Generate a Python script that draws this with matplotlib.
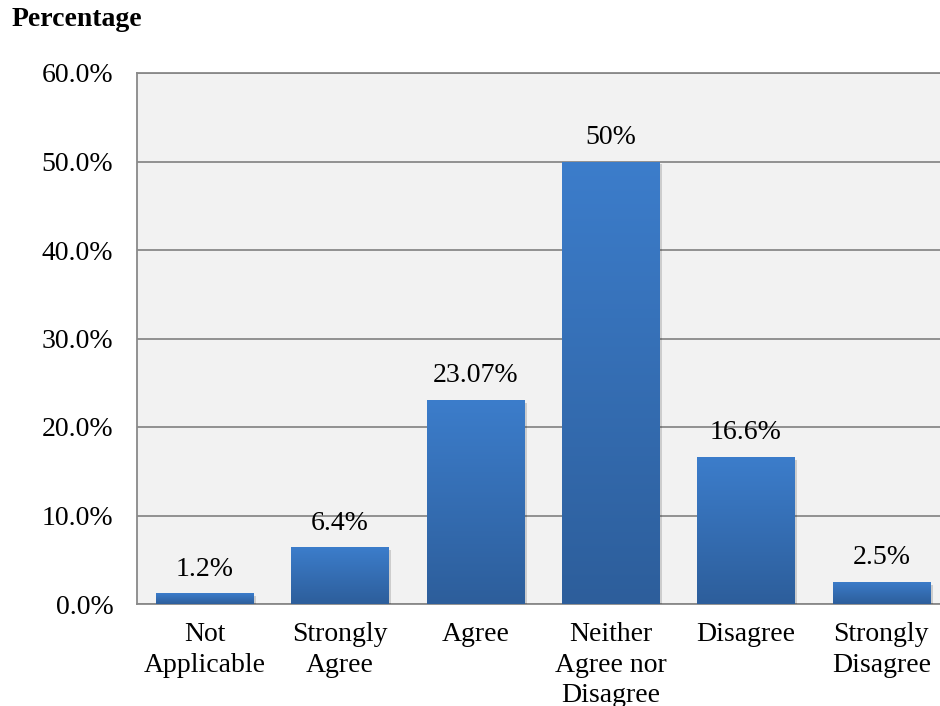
import numpy as np
import matplotlib.pyplot as plt
import matplotlib.patheffects as pe
from matplotlib.colors import LinearSegmentedColormap

plt.rcParams['font.family'] = ['Liberation Serif', 'DejaVu Serif']

# Datos de la encuesta
categorias = ['Not\nApplicable', 'Strongly\nAgree', 'Agree',
              'Neither\nAgree nor\nDisagree', 'Disagree', 'Strongly\nDisagree']
porcentajes = [1.2, 6.4, 23.07, 50.0, 16.6, 2.5]
etiquetas = ['1.2%', '6.4%', '23.07%', '50%', '16.6%', '2.5%']
yticks = [0, 10, 20, 30, 40, 50, 60]

fs = 20

fig = plt.figure(figsize=(9.4, 7.06), dpi=100)
ax = fig.add_axes([137 / 940, 102 / 706, 812 / 940, 531 / 706])
ax.set_facecolor('#f2f2f2')

x = np.arange(len(categorias))
barras = ax.bar(x, porcentajes, width=0.72, color='none', zorder=3,
                path_effects=[pe.SimplePatchShadow(offset=(2, -2), shadow_rgbFace='#000000', alpha=0.15),
                              pe.Normal()])

# Relleno degradado en cada barra
cmap = LinearSegmentedColormap.from_list('azul', ['#2d5e9b', '#3c7dcb'])
grad = np.linspace(0, 1, 256).reshape(-1, 1)
for b in barras:
    x0, y0 = b.get_x(), b.get_y()
    w, h = b.get_width(), b.get_height()
    im = ax.imshow(grad, cmap=cmap, origin='lower', aspect='auto',
                   extent=[x0, x0 + w, y0, y0 + h], zorder=4)
    im.set_clip_path(b)

for xi, v, t in zip(x, porcentajes, etiquetas):
    ax.annotate(t, (xi, v), xytext=(0, 17.5), textcoords='offset points',
                ha='center', va='center', fontsize=fs, zorder=5)

ax.set_xlim(-0.5, len(categorias) - 0.5)
ax.set_ylim(0, 60)
ax.set_yticks(yticks)
ax.set_yticklabels([f'{v:.1f}%' for v in yticks])
ax.set_xticks(x)
ax.set_xticklabels(categorias, linespacing=1.3)
ax.tick_params(axis='y', length=0, pad=17, labelsize=fs)
ax.tick_params(axis='x', length=0, pad=13, labelsize=fs)
ax.grid(axis='y', color='#898989', linewidth=1.3, zorder=1)
ax.set_axisbelow(True)
for s in ax.spines.values():
    s.set_color('#898989')
    s.set_linewidth(1.3)

fig.text(12 / 940, 1 - 20 / 706, 'Percentage', fontsize=fs, fontweight='bold',
         ha='left', va='center')

fig.savefig('out.png', dpi=100)
